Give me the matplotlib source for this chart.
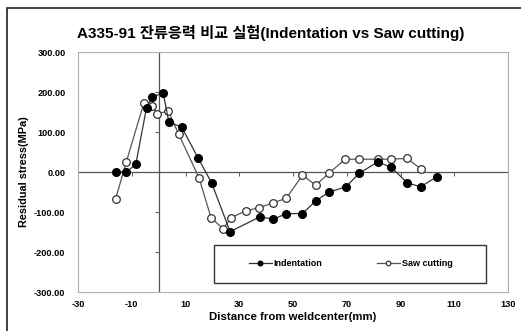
import matplotlib.pyplot as plt
from matplotlib.patches import Rectangle
import numpy as np

# Indentation (gefuellte Kreise)
ind_x = [-16, -12, -8.5, -4.5, -2.5, 1.7, 3.8, 8.6, 14.6, 19.7, 26.6, 37.7,
         42.7, 47.5, 53.5, 58.5, 63.5, 69.7, 74.7, 81.5, 86.5, 92.5, 97.5, 103.5]
ind_y = [0, 0, 19, 161, 187, 198, 125, 112, 36, -27, -149, -112,
         -118, -104, -104, -72, -50, -37, -3, 25, 12, -27, -37, -12]

# Saw cutting (offene Kreise)
saw_x = [-16, -12, -5.5, -2.5, -0.5, 3.6, 7.5, 15, 19.5, 24, 27, 32.5,
         37.5, 42.5, 47.5, 53.5, 58.5, 63.5, 69.5, 74.5, 81.5, 86.5, 92.5, 97.5]
saw_y = [-67, 26, 172, 165, 146, 152, 94, -14, -114, -142, -114, -97,
         -89, -77, -66, -8, -33, -2, 32, 32, 32, 32, 34, 8]

xticks = np.arange(-30, 131, 20)
yticks = np.arange(-300, 301, 100)

title = 'A335-91 잔류응력 비교 실험(Indentation vs Saw cutting)'
fam = ['Liberation Sans', 'Noto Sans CJK KR']

fig = plt.figure(figsize=(5.21, 3.31), dpi=100)
fig.patches.append(Rectangle((7/521, -0.1), 1.2, 1 - 8/331 + 0.1, transform=fig.transFigure,
                             fill=False, edgecolor='#222222', linewidth=1.2))
ax = fig.add_axes([78/521, 1 - 292/331, 430/521, 240/331])

ax.set_xlim(-30, 130)
ax.set_ylim(-300, 300)
for s in ax.spines.values():
    s.set_color('#b0b0b0')
    s.set_linewidth(0.8)

# Achsen durch den Nullpunkt (Excel-Stil)
ax.axhline(0, color='#555555', lw=0.9, zorder=1)
ax.axvline(0, color='#555555', lw=0.9, zorder=1)
ax.plot(xticks, np.zeros_like(xticks), ls='none', marker=3, ms=3, color='#555555', mew=0.7)
ax.plot(np.zeros_like(yticks), yticks, ls='none', marker=0, ms=3, color='#555555', mew=0.7)

ax.plot(ind_x, ind_y, '-o', color='#333333', lw=0.9, mfc='black', mec='black',
        ms=5.5, label='Indentation', zorder=3)
ax.plot(saw_x, saw_y, '-o', color='#555555', lw=0.9, mfc='white', mec='#333333',
        ms=5.5, mew=0.9, label='Saw cutting', zorder=2)

ax.set_xticks(xticks)
ax.set_xticklabels([str(v) for v in xticks])
ax.set_yticks(yticks)
ax.set_yticklabels([f'{v:.2f}' for v in yticks])
ax.tick_params(length=0, labelsize=6.6, pad=6)
ax.tick_params(axis='y', pad=9)
for lab in ax.get_xticklabels() + ax.get_yticklabels():
    lab.set_fontweight('bold')
    lab.set_family(fam)

ax.set_xlabel('Distance from weldcenter(mm)', fontsize=8.2, fontweight='bold', family=fam, labelpad=2)
ax.set_ylabel('Residual stress(MPa)', fontsize=7.8, fontweight='bold', family=fam, labelpad=4)
fig.text(0.52, 0.9, title, ha='center', va='center', fontsize=11, fontweight='bold', family=fam)

# Legendenrahmen separat, Eintraege mittig
ax.add_patch(Rectangle((0.316, 0.039), 0.633, 0.157, transform=ax.transAxes, fill=False,
                       edgecolor='#333333', lw=1.0, zorder=4))
ax.legend(loc='center', bbox_to_anchor=(0.634, 0.117), ncol=2, frameon=False,
          prop={'family': fam, 'weight': 'bold', 'size': 6.5},
          markerscale=0.6, handlelength=2.6, handletextpad=0.2, columnspacing=6.0)

fig.savefig('out.png', dpi=100)
